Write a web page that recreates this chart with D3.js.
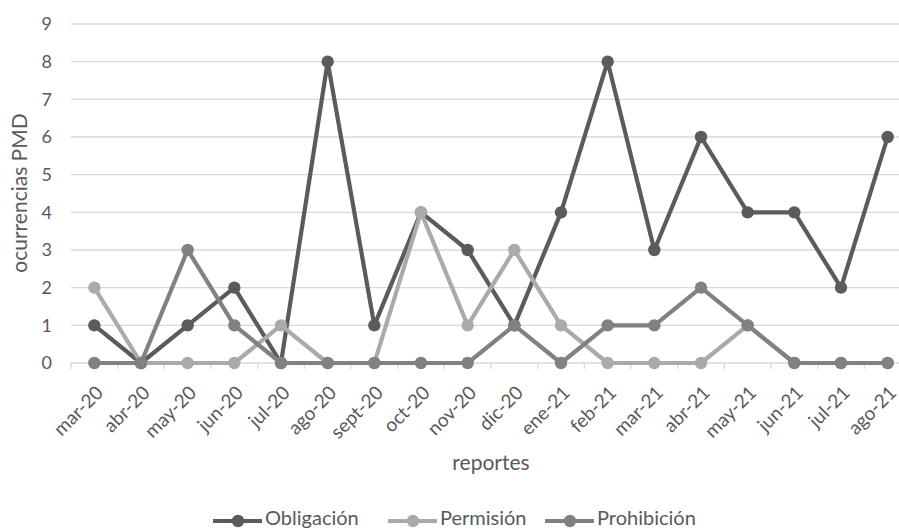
<!DOCTYPE html>
<html>
<head>
<meta charset="utf-8">
<script src="https://cdn.jsdelivr.net/npm/d3@7"></script>
<style>
  html, body { margin: 0; padding: 0; background: #fff; }
  svg { display: block; font-family: Lato, "Open Sans", sans-serif; }
</style>
</head>
<body>
<svg id="chart" width="899" height="531"></svg>
<script>
// Monthly report periods
const categories = ["mar-20","abr-20","may-20","jun-20","jul-20","ago-20","sept-20","oct-20","nov-20","dic-20",
                    "ene-21","feb-21","mar-21","abr-21","may-21","jun-21","jul-21","ago-21"];

// PMD occurrences per report, by modality
const obligacion  = [1,0,1,2,0,8,1,4,3,1,4,8,3,6,4,4,2,6];
const permision   = [2,0,0,0,1,0,0,4,1,3,1,0,0,0,1,0,0,0];
const prohibicion = [0,0,3,1,0,0,0,0,0,1,0,1,1,2,1,0,0,0];

const seriesNames = ["Obligación","Permisión","Prohibición"];
const yTicks = [0,1,2,3,4,5,6,7,8,9];

const series = [
  { name: seriesNames[0], values: obligacion,  color: "#5a5b5d" },
  { name: seriesNames[1], values: permision,   color: "#a9abab" },
  { name: seriesNames[2], values: prohibicion, color: "#7f8284" }
];

const textColor = "#595959";
const svg = d3.select("#chart");
const plotLeft = 71, plotRight = 911, plotTop = 24, plotBottom = 363;

const x = d3.scaleBand().domain(categories).range([plotLeft, plotRight]).padding(0);
const y = d3.scaleLinear().domain([0, 9]).range([plotBottom, plotTop]);
const cx = d => x(d) + x.bandwidth() / 2;

// Horizontal gridlines
svg.append("g").selectAll("line").data(yTicks.filter(t => t > 0)).join("line")
  .attr("x1", plotLeft).attr("x2", plotRight)
  .attr("y1", d => y(d)).attr("y2", d => y(d))
  .attr("stroke", "#d9d9d9").attr("stroke-width", 1.3);

// Y axis labels
const yAxis = d3.axisLeft(y).tickValues(yTicks).tickSize(0).tickPadding(19).tickFormat(d3.format("d"));
svg.append("g").attr("transform", `translate(${plotLeft},0)`).call(yAxis)
  .call(g => g.select(".domain").remove())
  .call(g => g.selectAll("text").attr("font-size", 18).attr("fill", textColor)
    .attr("font-family", "Lato, sans-serif"));

// X axis baseline with tick marks at category boundaries
svg.append("line").attr("x1", plotLeft).attr("x2", plotRight).attr("y1", plotBottom).attr("y2", plotBottom)
  .attr("stroke", "#d9d9d9").attr("stroke-width", 1.3);
svg.append("g").selectAll("line").data(categories).join("line")
  .attr("x1", d => x(d)).attr("x2", d => x(d))
  .attr("y1", plotBottom).attr("y2", plotBottom + 6)
  .attr("stroke", "#d9d9d9").attr("stroke-width", 1.3);

// X axis labels, rotated
svg.append("g").selectAll("text").data(categories).join("text")
  .attr("transform", d => `translate(${cx(d) + 10},${plotBottom + 31}) rotate(-45)`)
  .attr("text-anchor", "end")
  .attr("font-size", 19).attr("fill", textColor)
  .text(d => d);

// Axis titles
svg.append("text")
  .attr("transform", `translate(20,193) rotate(-90)`)
  .attr("text-anchor", "middle").attr("dy", "0.35em")
  .attr("font-size", 21).attr("fill", textColor)
  .text("ocurrencias PMD");

svg.append("text")
  .attr("x", (plotLeft + plotRight) / 2).attr("y", 463)
  .attr("text-anchor", "middle").attr("dy", "0.35em")
  .attr("font-size", 21).attr("fill", textColor)
  .text("reportes");

// Series lines and markers
const line = d3.line().x((d, i) => cx(categories[i])).y(d => y(d));
series.forEach(s => {
  const g = svg.append("g");
  g.append("path").datum(s.values)
    .attr("d", line).attr("fill", "none")
    .attr("stroke", s.color).attr("stroke-width", 4.2)
    .attr("stroke-linejoin", "round");
  g.selectAll("circle").data(s.values).join("circle")
    .attr("cx", (d, i) => cx(categories[i])).attr("cy", d => y(d))
    .attr("r", 6.2).attr("fill", s.color);
});

// Legend
const legendX = [213, 388, 545];
const legend = svg.append("g");
series.forEach((s, i) => {
  const lg = legend.append("g").attr("transform", `translate(${legendX[i]},521)`);
  lg.append("line").attr("x1", 0).attr("x2", 49).attr("y1", 0).attr("y2", 0)
    .attr("stroke", s.color).attr("stroke-width", 4.2);
  lg.append("circle").attr("cx", 25).attr("cy", 0).attr("r", 6.2).attr("fill", s.color);
  lg.append("text").attr("x", 52).attr("y", 4)
    .attr("font-size", 20).attr("fill", textColor).text(s.name);
});
</script>
</body>
</html>
